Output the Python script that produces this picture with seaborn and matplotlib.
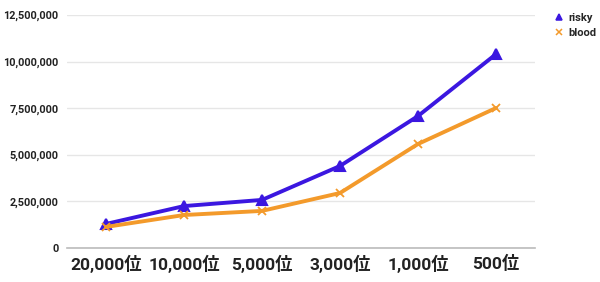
import matplotlib
matplotlib.use("Agg")
import matplotlib.pyplot as plt
import seaborn as sns
import pandas as pd
from matplotlib.ticker import FuncFormatter
from matplotlib.lines import Line2D

categories = ["20,000位", "10,000位", "5,000位", "3,000位", "1,000位", "500位"]
risky = [1290000, 2250000, 2580000, 4400000, 7080000, 10400000]
blood = [1130000, 1770000, 1990000, 2950000, 5580000, 7510000]
series_names = ["risky", "blood"]

sns.set_theme(style="white")
plt.rcParams["font.family"] = ["Roboto", "Noto Sans CJK JP", "DejaVu Sans"]

fig = plt.figure(figsize=(6, 2.82), dpi=100)
ax = fig.add_axes([67 / 600, 1 - 248 / 282, (535 - 67) / 600, (248 - 15) / 282])

palette = {"risky": "#3b17e0", "blood": "#f39a2b"}
markers = {"risky": "^", "blood": "x"}
xs = list(range(len(categories)))
for s, vals in zip(series_names, [risky, blood]):
    d = pd.DataFrame({"x": xs, "value": vals})
    sns.lineplot(data=d, x="x", y="value", color=palette[s], marker=markers[s],
                 markersize=7 if s == "risky" else 6,
                 markeredgewidth=1.5 if s == "risky" else 1.3,
                 markeredgecolor=palette[s], markerfacecolor=palette[s],
                 linewidth=2.8, sort=False, ax=ax, legend=False)

ax.set_xlim(-0.5, len(categories) - 0.5)
ax.set_ylim(0, 12500000)
ax.set_yticks([0, 2500000, 5000000, 7500000, 10000000, 12500000])
ax.yaxis.set_major_formatter(FuncFormatter(lambda v, p: f"{int(v):,}"))
ax.set_xticks(xs)
ax.set_xticklabels(categories, fontsize=12.5, fontweight="bold",
                   family=["Roboto", "Noto Sans CJK JP"], color="#222222")
for t in ax.get_yticklabels():
    t.set_fontsize(7.8)
    t.set_fontweight("bold")
    t.set_color("#222222")
ax.tick_params(axis="y", length=0, pad=6)
ax.tick_params(axis="x", length=0, pad=5)
ax.set_xlabel("")
ax.set_ylabel("")
ax.grid(axis="y", color="#e6e6e6", linewidth=1)
ax.set_axisbelow(True)
for sp in ["left", "right", "top"]:
    ax.spines[sp].set_visible(False)
ax.spines["bottom"].set_color("#bbbbbb")
ax.spines["bottom"].set_linewidth(1.2)

handles = [Line2D([], [], linestyle="none", marker=markers[s], color=palette[s],
                  markersize=4, markeredgewidth=1.1)
           for s in series_names]
fig.legend(handles, series_names, loc="upper left", bbox_to_anchor=(545 / 600, 1 - 3 / 282),
           frameon=False, handlelength=0.8, handletextpad=0.4, labelspacing=0.45,
           prop={"size": 8, "weight": "bold", "family": "Roboto"})

fig.savefig("out.png", dpi=100)
